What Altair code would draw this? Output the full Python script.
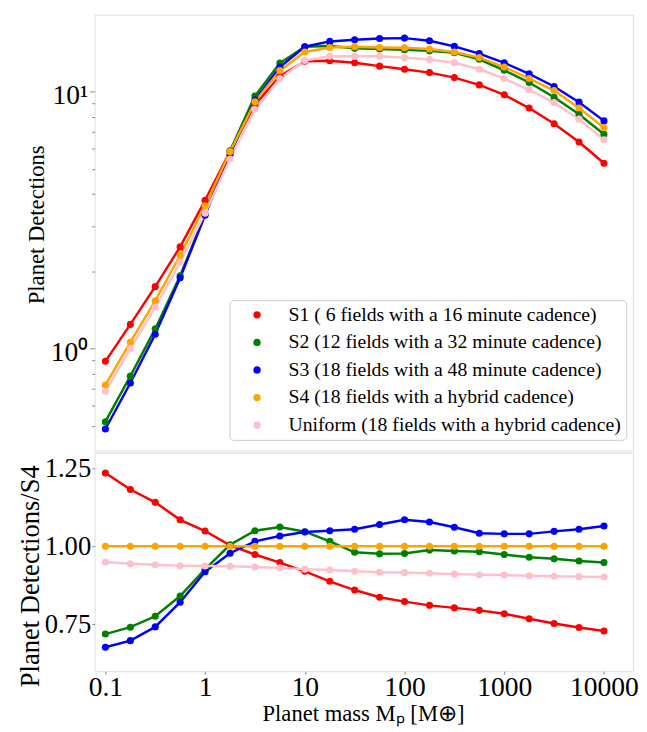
import altair as alt
import pandas as pd

# ---------------- data ----------------
mass = [0.1, 0.178, 0.316, 0.562, 1, 1.78, 3.16, 5.62, 10, 17.8, 31.6, 56.2,
        100, 178, 316, 562, 1000, 1778, 3162, 5623, 10000]

series_names = [
    "S1 ( 6 fields with a 16 minute cadence)",
    "S2 (12 fields with a 32 minute cadence)",
    "S3 (18 fields with a 48 minute cadence)",
    "S4 (18 fields with a hybrid cadence)",
    "Uniform (18 fields with a hybrid cadence)",
]
series_colors = ["#ff0000", "#008000", "#0000ff", "#ffa500", "#ffc0cb"]

det_s1 = [0.892, 1.242, 1.743, 2.49, 3.78, 5.87, 8.9, 11.5, 13.16, 13.22, 12.98,
          12.6, 12.25, 11.89, 11.37, 10.65, 9.74, 8.65, 7.51, 6.38, 5.27]
det_s2 = [0.519, 0.781, 1.193, 1.921, 3.34, 5.89, 9.64, 12.95, 15.0, 15.1, 14.78,
          14.69, 14.6, 14.45, 14.2, 13.4, 12.14, 10.88, 9.53, 8.18, 6.84]
det_s3 = [0.486, 0.734, 1.137, 1.887, 3.31, 5.72, 9.3, 12.5, 15.0, 15.73, 15.96,
          16.15, 16.2, 15.82, 15.04, 14.1, 12.98, 11.75, 10.5, 9.12, 7.71]
det_s4 = [0.721, 1.06, 1.535, 2.31, 3.6, 5.85, 9.15, 12.1, 14.3, 14.9, 15.0,
          14.9, 14.85, 14.7, 14.3, 13.6, 12.5, 11.27, 10.12, 8.65, 7.26]
det_uni = [0.682, 1.0, 1.448, 2.17, 3.37, 5.48, 8.55, 11.27, 13.26, 13.77, 13.78,
           13.78, 13.6, 13.38, 12.98, 12.25, 11.27, 10.18, 9.08, 7.83, 6.51]

ratio_s1 = [1.235, 1.182, 1.141, 1.085, 1.049, 1.003, 0.974, 0.948, 0.920, 0.888,
            0.860, 0.837, 0.823, 0.811, 0.803, 0.795, 0.784, 0.768, 0.753, 0.740, 0.729]
ratio_s2 = [0.719, 0.741, 0.776, 0.841, 0.927, 1.005, 1.050, 1.062, 1.047, 1.016,
            0.981, 0.976, 0.977, 0.988, 0.985, 0.983, 0.974, 0.965, 0.960, 0.953, 0.948]
ratio_s3 = [0.677, 0.698, 0.742, 0.821, 0.919, 0.978, 1.016, 1.033, 1.046, 1.050,
            1.055, 1.070, 1.085, 1.078, 1.061, 1.042, 1.040, 1.040, 1.048, 1.055, 1.065]
ratio_s4 = [1.0] * 21
ratio_uni = [0.950, 0.944, 0.941, 0.938, 0.937, 0.936, 0.934, 0.931, 0.927, 0.924,
             0.920, 0.917, 0.916, 0.914, 0.911, 0.909, 0.908, 0.906, 0.904, 0.903, 0.902]

top_rows = []
bot_rows = []
for name, d, r in zip(series_names,
                      [det_s1, det_s2, det_s3, det_s4, det_uni],
                      [ratio_s1, ratio_s2, ratio_s3, ratio_s4, ratio_uni]):
    for m, dv, rv in zip(mass, d, r):
        top_rows.append({"mass": m, "value": dv, "series": name})
        bot_rows.append({"mass": m, "value": rv, "series": name})
df_top = pd.DataFrame(top_rows)
df_bot = pd.DataFrame(bot_rows)

# ---------------- styling ----------------
FONT = "Liberation Serif"
W = 547
H_TOP = 443
H_BOT = 222
MAJOR_TEST = "datum.value == 1 || datum.value == 10"

xscale = alt.Scale(type="log", domain=[0.078, 19600], nice=False)
cscale = alt.Scale(domain=series_names, range=series_colors)
ytop_scale = alt.Scale(type="log", domain=[0.4, 20], nice=False)
ybot_scale = alt.Scale(domain=[0.6, 1.3], nice=False, zero=False)

minor_major = [0.5, 0.6, 0.7, 0.8, 0.9, 1, 2, 3, 4, 5, 6, 7, 8, 9, 10]

top_y_axis = alt.Axis(
    title="Planet Detections",
    values=minor_major,
    labelExpr="datum.value == 1 ? '10⁰' : (datum.value == 10 ? '10¹' : '')",
    tickSize={"condition": {"test": MAJOR_TEST, "value": 5}, "value": 3},
    labelFontSize={"condition": {"test": MAJOR_TEST, "value": 28}, "value": 0},
    labelOverlap=False, labelOffset=4,
    grid=False, domain=False,
    labelFont=FONT, labelColor="black", labelPadding=2,
    tickColor="#888",
    titleFont=FONT, titleFontSize=23, titleFontWeight="normal", titleColor="black",
    titleX=-59, titleY=213, titleBaseline="middle", titleAngle=270,
)

bot_y_axis = alt.Axis(
    title="Planet Detections/S4",
    values=[0.75, 1.0, 1.25], format=".2f",
    tickSize=3, labelOverlap=False,
    grid=False, domain=False,
    labelFont=FONT, labelFontSize=27, labelColor="black", labelPadding=1,
    tickColor="#888",
    titleFont=FONT, titleFontSize=27, titleFontWeight="normal", titleColor="black",
    titleX=-65, titleY=125, titleBaseline="middle", titleAngle=270,
)

bot_x_axis = alt.Axis(
    title="Planet mass Mₚ [M⊕]",
    values=[0.1, 1, 10, 100, 1000, 10000], format="~g",
    tickSize=3, labelOverlap=False, labelFlush=False,
    grid=False, domain=False,
    labelFont=FONT, labelFontSize=28, labelColor="black", labelPadding=0,
    tickColor="#888",
    titleFont=FONT, titleFontSize=23, titleFontWeight="normal", titleColor="black",
    titleX=170, titleY=50, titleAlign="left", titleBaseline="alphabetic",
)

legend = alt.Legend(
    title=None, orient="none", legendX=137, legendY=290,
    symbolType="circle", symbolSize=55, symbolStrokeWidth=0,
    labelFont=FONT, labelFontSize=20, labelColor="black", labelLimit=600,
    padding=5, rowPadding=8, symbolOffset=13, labelOffset=22,
    strokeColor="#cccccc", fillColor="white", cornerRadius=4,
)

top_base = alt.Chart(df_top)
top_line = top_base.mark_line(strokeWidth=2.5).encode(
    x=alt.X("mass:Q", scale=xscale, axis=None),
    y=alt.Y("value:Q", scale=ytop_scale, axis=top_y_axis),
    color=alt.Color("series:N", scale=cscale, legend=None),
)
top_pts = top_base.mark_circle(size=52, opacity=1).encode(
    x=alt.X("mass:Q", scale=xscale, axis=None),
    y=alt.Y("value:Q", scale=ytop_scale, axis=top_y_axis),
    color=alt.Color("series:N", scale=cscale, legend=legend),
)
top = alt.layer(top_line, top_pts).resolve_legend(color="independent").properties(
    width=W, height=H_TOP)

bot_base = alt.Chart(df_bot)
bot_line = bot_base.mark_line(strokeWidth=2.5).encode(
    x=alt.X("mass:Q", scale=xscale, axis=bot_x_axis),
    y=alt.Y("value:Q", scale=ybot_scale, axis=bot_y_axis),
    color=alt.Color("series:N", scale=cscale, legend=None),
)
bot_pts = bot_base.mark_circle(size=52, opacity=1).encode(
    x=alt.X("mass:Q", scale=xscale, axis=bot_x_axis),
    y=alt.Y("value:Q", scale=ybot_scale, axis=bot_y_axis),
    color=alt.Color("series:N", scale=cscale, legend=None),
)
bot = alt.layer(bot_line, bot_pts).resolve_legend(color="independent").properties(
    width=W, height=H_BOT)

chart = alt.vconcat(top, bot, spacing=0).resolve_legend(color="independent").properties(
    padding={"left": 8, "top": 0, "right": 0, "bottom": 0}
).configure_view(stroke="#888888", strokeWidth=1.3).configure(background="white")

chart.save("out.html", embed_options={"renderer": "svg", "actions": False})
